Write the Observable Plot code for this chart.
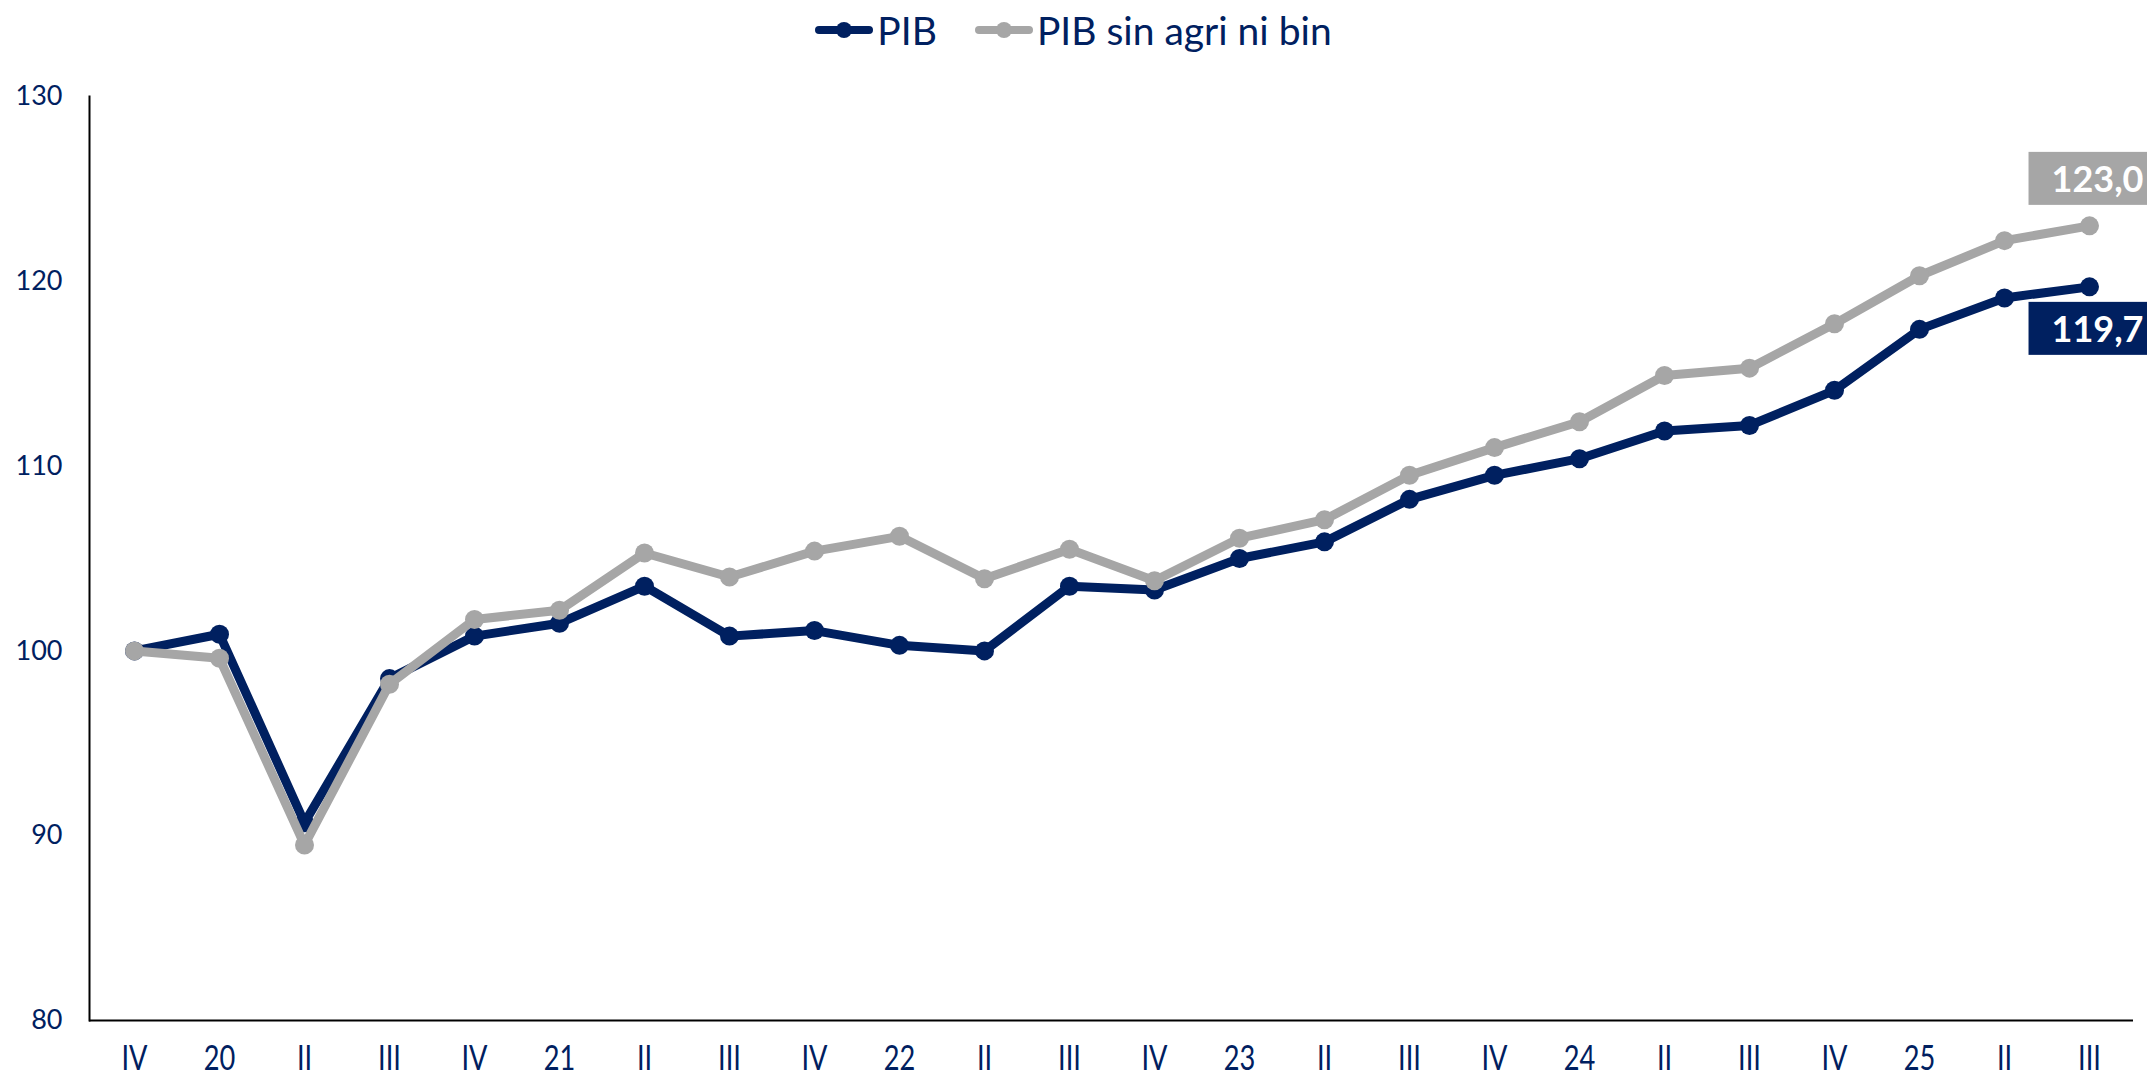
<!DOCTYPE html>
<html><head><meta charset="utf-8">
<script src="https://cdn.jsdelivr.net/npm/d3@7"></script>
<script src="https://cdn.jsdelivr.net/npm/@observablehq/plot@0.6"></script>
<style>
body{margin:0;background:#fff;width:2147px;height:1076px;overflow:hidden;font-family:Lato,sans-serif;}
#legend{height:60px;display:flex;justify-content:center;align-items:center;gap:38px;color:#002060;font-size:39px;}
.item{display:flex;align-items:center;}
.sw{position:relative;width:58px;height:20px;margin-right:4px}
.sw .ln{position:absolute;left:0;right:0;top:6px;height:8px;border-radius:4px}
.sw .dt{position:absolute;left:21px;top:2px;width:16px;height:16px;border-radius:50%}
#chart svg{display:block;overflow:visible}
</style></head><body>
<div id="legend"></div>
<div id="chart"></div>
<script>
const periods = ["IV","20","II","III","IV","21","II","III","IV","22","II","III","IV","23","II","III","IV","24","II","III","IV","25","II","III"];
const pib        = [100.0,100.9,90.7,98.5,100.8,101.5,103.5,100.8,101.1,100.3,100.0,103.5,103.3,105.0,105.9,108.2,109.5,110.4,111.9,112.2,114.1,117.4,119.1,119.7];
const pibSinAgri = [100.0,99.6,89.5,98.2,101.7,102.2,105.3,104.0,105.4,106.2,103.9,105.5,103.8,106.1,107.1,109.5,111.0,112.4,114.9,115.3,117.7,120.3,122.2,123.0];
const seriesNames  = ["PIB","PIB sin agri ni bin"];
const seriesColors = ["#002060","#A6A6A6"];
const yTicks = [80,90,100,110,120,130];

// legend
const legend = document.getElementById("legend");
seriesNames.forEach((name, k) => {
  const it = document.createElement("div"); it.className = "item";
  it.innerHTML = `<div class="sw"><div class="ln" style="background:${seriesColors[k]}"></div><div class="dt" style="background:${seriesColors[k]}"></div></div><span>${name}</span>`;
  legend.append(it);
});

const series = [pib, pibSinAgri].map((vals, k) => vals.map((v, i) => ({i, v, s: seriesNames[k]})));
const last = periods.length - 1;
const fmt = v => d3.format(".1f")(v).replace(".", ",");

const marks = [
  Plot.axisY({ticks: yTicks, tickSize: 0, tickPadding: 27, fontSize: 27, fontFamily: "Lato", label: null}),
  Plot.axisX({tickSize: 0, tickPadding: 25, fontSize: 34, fontFamily: "Lato", label: null, tickFormat: i => periods[i]}),
  Plot.ruleY([80], {stroke: "#000", strokeWidth: 2}),
  Plot.frame({anchor: "left", stroke: "#000", strokeWidth: 2})
];
series.forEach((rows, k) => {
  marks.push(Plot.line(rows, {x: "i", y: "v", stroke: seriesColors[k], strokeWidth: 9, strokeLinejoin: "round", strokeLinecap: "round"}));
  marks.push(Plot.dot(rows, {x: "i", y: "v", r: 9.5, fill: seriesColors[k], stroke: "none"}));
});
series.forEach((rows, k) => {
  marks.push(Plot.text([rows[last]], {x: "i", y: "v", text: d => fmt(d.v), dx: 8, dy: k === 0 ? 44 : -45,
    fill: "white", fontSize: 36, fontWeight: 700, fontFamily: "Lato", className: "endlab" + k}));
});

const plot = Plot.plot({
  width: 2147, height: 1016,
  marginLeft: 89, marginRight: 14, marginTop: 36, marginBottom: 56,
  style: {background: "transparent", color: "#002060", fontFamily: "Lato", overflow: "visible"},
  x: {type: "point", domain: d3.range(periods.length), padding: 0.5, axis: null},
  y: {domain: [80, 130], axis: null},
  marks
});
document.getElementById("chart").append(plot);

// condensed x labels
plot.querySelectorAll("[aria-label='x-axis tick label'] text").forEach(t => {
  const tr = t.getAttribute("transform") || "";
  t.setAttribute("transform", tr + " scale(0.8,1)");
});

// label boxes
[0, 1].forEach(k => {
  plot.querySelectorAll(".endlab" + k + " text").forEach(t => {
    const b = t.getBBox();
    const cy = b.y + b.height / 2;
    const r = document.createElementNS("http://www.w3.org/2000/svg", "rect");
    r.setAttribute("x", b.x - 23);
    r.setAttribute("y", cy - 26.5);
    r.setAttribute("width", b.width + 46);
    r.setAttribute("height", 53);
    r.setAttribute("fill", seriesColors[k]);
    const tr = t.getAttribute("transform"); if (tr) r.setAttribute("transform", tr);
    t.parentNode.insertBefore(r, t);
  });
});
</script>
</body></html>
